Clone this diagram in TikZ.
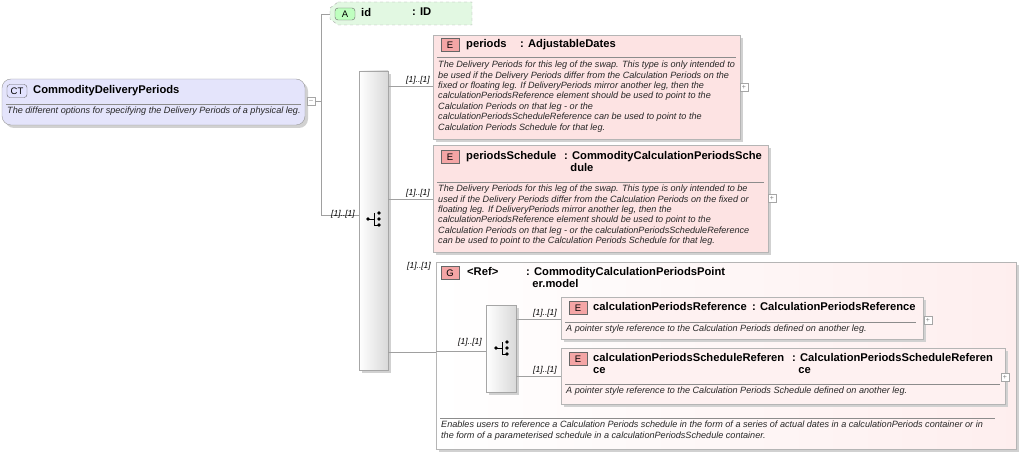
\documentclass[tikz,border=0pt]{standalone}
\usepackage{fontspec}
\setmainfont{Liberation Sans}
\usetikzlibrary{positioning,shapes.misc}
\definecolor{elemfill}{HTML}{FDE3E3}
\definecolor{elemedge}{HTML}{B5B5B5}
\definecolor{ctfill}{HTML}{E4E4FB}
\definecolor{attfill}{HTML}{E2F8E2}
\definecolor{tagred}{HTML}{F4A5A5}
\definecolor{linegray}{HTML}{A0A0A0}
\tikzset{
  box/.style={draw=elemedge, fill=elemfill, line width=0.6pt},
  shade/.style={fill=black!18},
  tag/.style={draw=black!60, fill=tagred, font=\fontsize{9.5}{10}\selectfont, inner sep=0pt, minimum width=18pt, minimum height=13pt},
  title/.style={font=\fontsize{11.2}{12.5}\selectfont\bfseries, anchor=north west, inner sep=0pt, align=left},
  desc/.style={font=\fontsize{9.1}{10.4}\selectfont\itshape, anchor=north west, inner sep=0pt, align=left, text=black!85},
  card/.style={font=\fontsize{8.5}{9}\selectfont\itshape, inner sep=0pt},
  conn/.style={draw=linegray, line width=0.6pt},
  seq/.style={draw=black!35, left color=white, right color=black!15, line width=0.6pt},
  plus/.style={draw=black!35, fill=white, inner sep=0pt, minimum size=8pt, font=\fontsize{7}{7}\selectfont, text=black!50}
}
\begin{document}
\begin{tikzpicture}[x=1pt,y=-1pt]
    \useasboundingbox (0,0) rectangle (1019,454);

    % complex type
    \fill[black!18, rounded corners=9pt] (5,82) rectangle (308,128);
    \draw[draw=black!40, fill=ctfill, rounded corners=9pt] (2,79) rectangle (305,125);
    \node[draw=black!60, fill=ctfill!70!blue!30, rounded corners=3pt, inner sep=0pt, minimum width=20pt, minimum height=13pt, font=\fontsize{9.5}{10}\selectfont] (ctTag) at (17,91) {CT};
    \node[title] (ctName) at (33,85) {CommodityDeliveryPeriods};
    \draw[black!45] (6,104) -- (301,104);
    \node[desc] (ctDesc) at (7,107) {The different options for specifying the Delivery Periods of a physical leg.};
    \node[plus] (ctMinus) at (311,101) {--};

    % attribute id
    \draw[dashed, draw=black!35, fill=attfill] (338,2) -- (472,2) -- (472,25) -- (338,25) -- (330,19) -- (330,8) -- cycle;
    \node[draw=black!60, fill=green!25, rounded corners=3pt, inner sep=0pt, minimum width=20pt, minimum height=12pt, font=\fontsize{9.5}{10}\selectfont] (attTag) at (345,14) {A};
    \node[title] (attName) at (361,8) {id};
    \node[title] (attType) at (412,8) {: ID};

    % main sequence
    \coordinate (fork) at (321,101);
    \draw[conn] (ctMinus.east) -- (fork);
    \draw[conn] (330,14) -- (321,14) -- (321,215) -- (359,215);
    \node[card] at (343,214) {[1]..[1]};
    \fill[shade] (362,74) rectangle (391,373);
    \draw[seq] (359,71) rectangle (388,370);
    \foreach \dy in {-6,0,6} \fill (379,219+\dy) circle (1.8pt);
    \fill (368,219) circle (1.8pt);
    \draw[line width=0.8pt] (368,219) -- (374,219) (374,213) -- (374,225) -- (379,225);

    % periods
    \fill[shade] (436,38) rectangle (743,142);
    \draw[box] (433,35) rectangle (740,139);
    \node[tag] (pTag) at (450,45) {E};
    \node[title] (pName) at (466,39) {periods};
    \node[title] (pType) at (520,39) {: AdjustableDates};
    \draw[black!45] (437,57) -- (736,57);
    \node[desc] at (438,61) {The Delivery Periods for this leg of the swap. This type is only intended to\\be used if the Delivery Periods differ from the Calculation Periods on the\\fixed or floating leg. If DeliveryPeriods mirror another leg, then the\\calculationPeriodsReference element should be used to point to the\\Calculation Periods on that leg - or the\\calculationPeriodsScheduleReference can be used to point to the\\Calculation Periods Schedule for that leg.};
    \node[plus] at (744,87) {+};
    \draw[conn] (388,86) -- (433,86);
    \node[card] at (418,80) {[1]..[1]};

    % periodsSchedule
    \fill[shade] (436,148) rectangle (771,255);
    \draw[box] (433,145) rectangle (768,252);
    \node[tag] (sTag) at (450,157) {E};
    \node[title] (sName) at (466,151) {periodsSchedule};
    \node[title] (sType) at (564,151) {: CommodityCalculationPeriodsSche\\\ \ dule};
    \draw[black!45] (437,182) -- (764,182);
    \node[desc] at (438,185) {The Delivery Periods for this leg of the swap. This type is only intended to be\\used if the Delivery Periods differ from the Calculation Periods on the fixed or\\floating leg. If DeliveryPeriods mirror another leg, then the\\calculationPeriodsReference element should be used to point to the\\Calculation Periods on that leg - or the calculationPeriodsScheduleReference\\can be used to point to the Calculation Periods Schedule for that leg.};
    \node[plus] at (772,198) {+};
    \draw[conn] (388,199) -- (433,199);
    \node[card] at (418,193) {[1]..[1]};

    % group
    \fill[shade] (439,265) rectangle (1019,452);
    \draw[box, right color=elemfill!60, left color=elemfill!140!red!10] (436,262) rectangle (1016,449);
    \node[tag] (gTag) at (450,273) {G};
    \node[title] (gName) at (467,267) {<Ref>};
    \node[title] (gType) at (526,267) {: CommodityCalculationPeriodsPoint\\\ \ er.model};
    \node[card] at (419,266) {[1]..[1]};
    \draw[conn] (388,352) -- (436,352);
    \draw[black!45] (440,418) -- (995,418);
    \node[desc] at (441,421) {Enables users to reference a Calculation Periods schedule in the form of a series of actual dates in a calculationPeriods container or in\\the form of a parameterised schedule in a calculationPeriodsSchedule container.};

    % inner sequence
    \fill[shade] (489,308) rectangle (519,395);
    \draw[seq] (486,305) rectangle (516,392);
    \foreach \dy in {-6,0,6} \fill (507,348+\dy) circle (1.8pt);
    \fill (496,348) circle (1.8pt);
    \draw[line width=0.8pt] (496,348) -- (502,348) (502,342) -- (502,354) -- (507,354);
    \draw[conn] (436,351) -- (486,351);
    \node[card] at (470,342) {[1]..[1]};

    % calculationPeriodsReference
    \fill[shade] (564,300) rectangle (926,342);
    \draw[box, fill=white] (561,297) rectangle (923,339);
    \fill[elemfill!50] (561.5,297.5) rectangle (922.5,338.5);
    \node[tag] at (578,308) {E};
    \node[title] at (593,302) {calculationPeriodsReference};
    \node[title] at (752,302) {: CalculationPeriodsReference};
    \draw[black!45] (565,322) -- (916,322);
    \node[desc] at (566,325) {A pointer style reference to the Calculation Periods defined on another leg.};
    \node[plus] at (928,320) {+};
    \draw[conn] (516,319) -- (561,319);
    \node[card] at (545,313) {[1]..[1]};

    % calculationPeriodsScheduleReference
    \fill[shade] (564,351) rectangle (1008,407);
    \draw[box, fill=white] (561,348) rectangle (1005,404);
    \fill[elemfill!50] (561.5,348.5) rectangle (1004.5,403.5);
    \node[tag] at (578,359) {E};
    \node[title] at (593,353) {calculationPeriodsScheduleReferen\\ce};
    \node[title] at (792,353) {: CalculationPeriodsScheduleReferen\\\ \ ce};
    \draw[black!45] (565,384) -- (1000,384);
    \node[desc] at (566,387) {A pointer style reference to the Calculation Periods Schedule defined on another leg.};
    \node[plus] at (1005,377) {+};
    \draw[conn] (516,376) -- (561,376);
    \node[card] at (545,370) {[1]..[1]};
\end{tikzpicture}
\end{document}
